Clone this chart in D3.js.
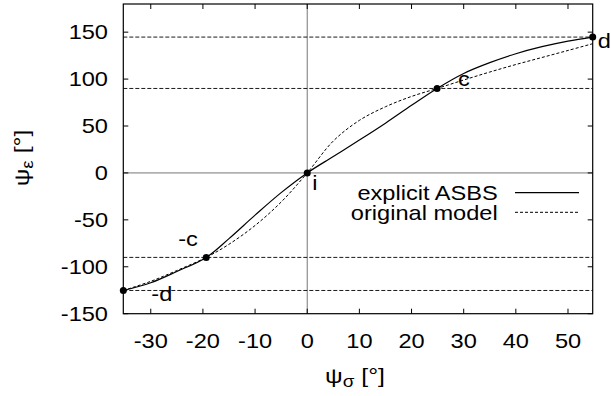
<!DOCTYPE html>
<html>
<head>
<meta charset="utf-8">
<script src="https://cdn.jsdelivr.net/npm/d3@7"></script>
<style>
  html, body { margin: 0; padding: 0; background: #fff; }
  svg { display: block; }
  text { font-family: "Liberation Sans", Arial, Helvetica, sans-serif; fill: #000; }
</style>
</head>
<body>
<svg id="chart" width="611" height="396"></svg>
<script>
// Axis ticks
const xTicks = [-30, -20, -10, 0, 10, 20, 30, 40, 50];
const yTicks = [-150, -100, -50, 0, 50, 100, 150];

// Explicit ASBS relation (psi_sigma, psi_epsilon) in degrees
const asbsSigma = [-35.26, -30, -25, -19.36, -15, -10, -5, 0, 5, 10, 15, 20, 24.9, 30, 35, 40, 45, 50, 54.74];
const asbsEps   = [-125.26, -117, -105, -90, -70, -45, -21, 0, 17.5, 35, 53, 72, 90, 106, 117.5, 127, 134.5, 140.5, 144.74];

// Original model relation
const origSigma = [-35.26, -30, -25, -19.36, -15, -10, -5, 0, 5, 10, 15, 20, 24.9, 30, 35, 40, 45, 50, 54.74];
const origEps   = [-125.26, -115.5, -104, -90, -76, -56, -31, 0, 34, 56, 70.5, 81.5, 90, 99, 107.5, 115.5, 123, 130.5, 137.7];

// Characteristic points
const markNames = ["-d", "-c", "i", "c", "d"];
const markSigma = [-35.26, -19.36, 0, 24.9, 54.74];
const markEps   = [-125.26, -90, 0, 90, 144.74];

// Reference levels drawn as dashed horizontals
const levels = [144.74, 90, -90, -125.26];

const svg = d3.select("#chart");
const L = 123.3, R = 592.7, T = 4, B = 313.7;
const x = d3.scaleLinear().domain([-35.264, 54.736]).range([L, R]);
const y = d3.scaleLinear().domain([-150, 180]).range([B, T]);

const FS = 20, SX = 1.18;
function label(px, py, str, anchor) {
  return svg.append("text")
    .attr("transform", `translate(${px},${py}) scale(${SX},1)`)
    .attr("font-size", FS)
    .attr("text-anchor", anchor || "start")
    .text(str);
}

// zero axes
svg.append("line").attr("x1", x(0)).attr("x2", x(0)).attr("y1", T).attr("y2", B)
  .attr("stroke", "#777").attr("stroke-width", 1);
svg.append("line").attr("x1", L).attr("x2", R).attr("y1", y(0)).attr("y2", y(0))
  .attr("stroke", "#777").attr("stroke-width", 1);

// dashed reference levels
svg.selectAll("line.level").data(levels).join("line")
  .attr("class", "level")
  .attr("x1", L).attr("x2", R)
  .attr("y1", d => y(d)).attr("y2", d => y(d))
  .attr("stroke", "#000").attr("stroke-width", 0.9)
  .attr("stroke-dasharray", "4,2");

// ticks on all four sides (inward)
const tl = 5;
xTicks.forEach(v => {
  svg.append("line").attr("x1", x(v)).attr("x2", x(v)).attr("y1", B).attr("y2", B - tl).attr("stroke", "#000");
  svg.append("line").attr("x1", x(v)).attr("x2", x(v)).attr("y1", T).attr("y2", T + tl).attr("stroke", "#000");
  label(x(v), 348, String(v), "middle");
});
yTicks.forEach(v => {
  svg.append("line").attr("x1", L).attr("x2", L + tl).attr("y1", y(v)).attr("y2", y(v)).attr("stroke", "#000");
  svg.append("line").attr("x1", R).attr("x2", R - tl).attr("y1", y(v)).attr("y2", y(v)).attr("stroke", "#000");
  label(108, y(v) + 7, String(v), "end");
});

// curves
const lineGen = d3.line().x(d => x(d[0])).y(d => y(d[1])).curve(d3.curveCatmullRom.alpha(0.5));
const asbs = asbsSigma.map((s, i) => [s, asbsEps[i]]);
const orig = origSigma.map((s, i) => [s, origEps[i]]);
svg.append("path").datum(orig).attr("d", lineGen)
  .attr("fill", "none").attr("stroke", "#000").attr("stroke-width", 1).attr("stroke-dasharray", "3,2");
svg.append("path").datum(asbs).attr("d", lineGen)
  .attr("fill", "none").attr("stroke", "#000").attr("stroke-width", 1.2);

// frame
svg.append("rect").attr("x", L).attr("y", T).attr("width", R - L).attr("height", B - T)
  .attr("fill", "none").attr("stroke", "#000").attr("stroke-width", 1.2);

// characteristic points
svg.selectAll("circle.mark").data(markSigma).join("circle")
  .attr("class", "mark")
  .attr("cx", d => x(d)).attr("cy", (d, i) => y(markEps[i]))
  .attr("r", 3.5).attr("fill", "#000");

const markOffsets = [[28, 11], [-28, -11], [5, 17], [21, -2], [5, 11]];
markNames.forEach((n, i) => {
  label(x(markSigma[i]) + markOffsets[i][0], y(markEps[i]) + markOffsets[i][1], n, "start");
});

// legend
label(497.7, 200, "explicit ASBS", "end");
label(497.7, 219.5, "original model", "end");
svg.append("line").attr("x1", 515).attr("x2", 579).attr("y1", 192.7).attr("y2", 192.7)
  .attr("stroke", "#000").attr("stroke-width", 1.2);
svg.append("line").attr("x1", 515).attr("x2", 579).attr("y1", 212.3).attr("y2", 212.3)
  .attr("stroke", "#000").attr("stroke-width", 1).attr("stroke-dasharray", "3,2");

// axis titles
const xt = svg.append("text")
  .attr("transform", `translate(355,383) scale(${SX},1)`)
  .attr("font-size", 21).attr("text-anchor", "middle");
xt.append("tspan").text("ψ");
xt.append("tspan").attr("font-size", 16).attr("dy", 4).text("σ");
xt.append("tspan").attr("dy", -4).text(" [°]");

const yt = svg.append("text")
  .attr("transform", `translate(29,158) rotate(-90) scale(${SX},1)`)
  .attr("font-size", 21).attr("text-anchor", "middle");
yt.append("tspan").text("ψ");
yt.append("tspan").attr("font-size", 16).attr("dy", 4).text("ε");
yt.append("tspan").attr("dy", -4).text(" [°]");
</script>
</body>
</html>
